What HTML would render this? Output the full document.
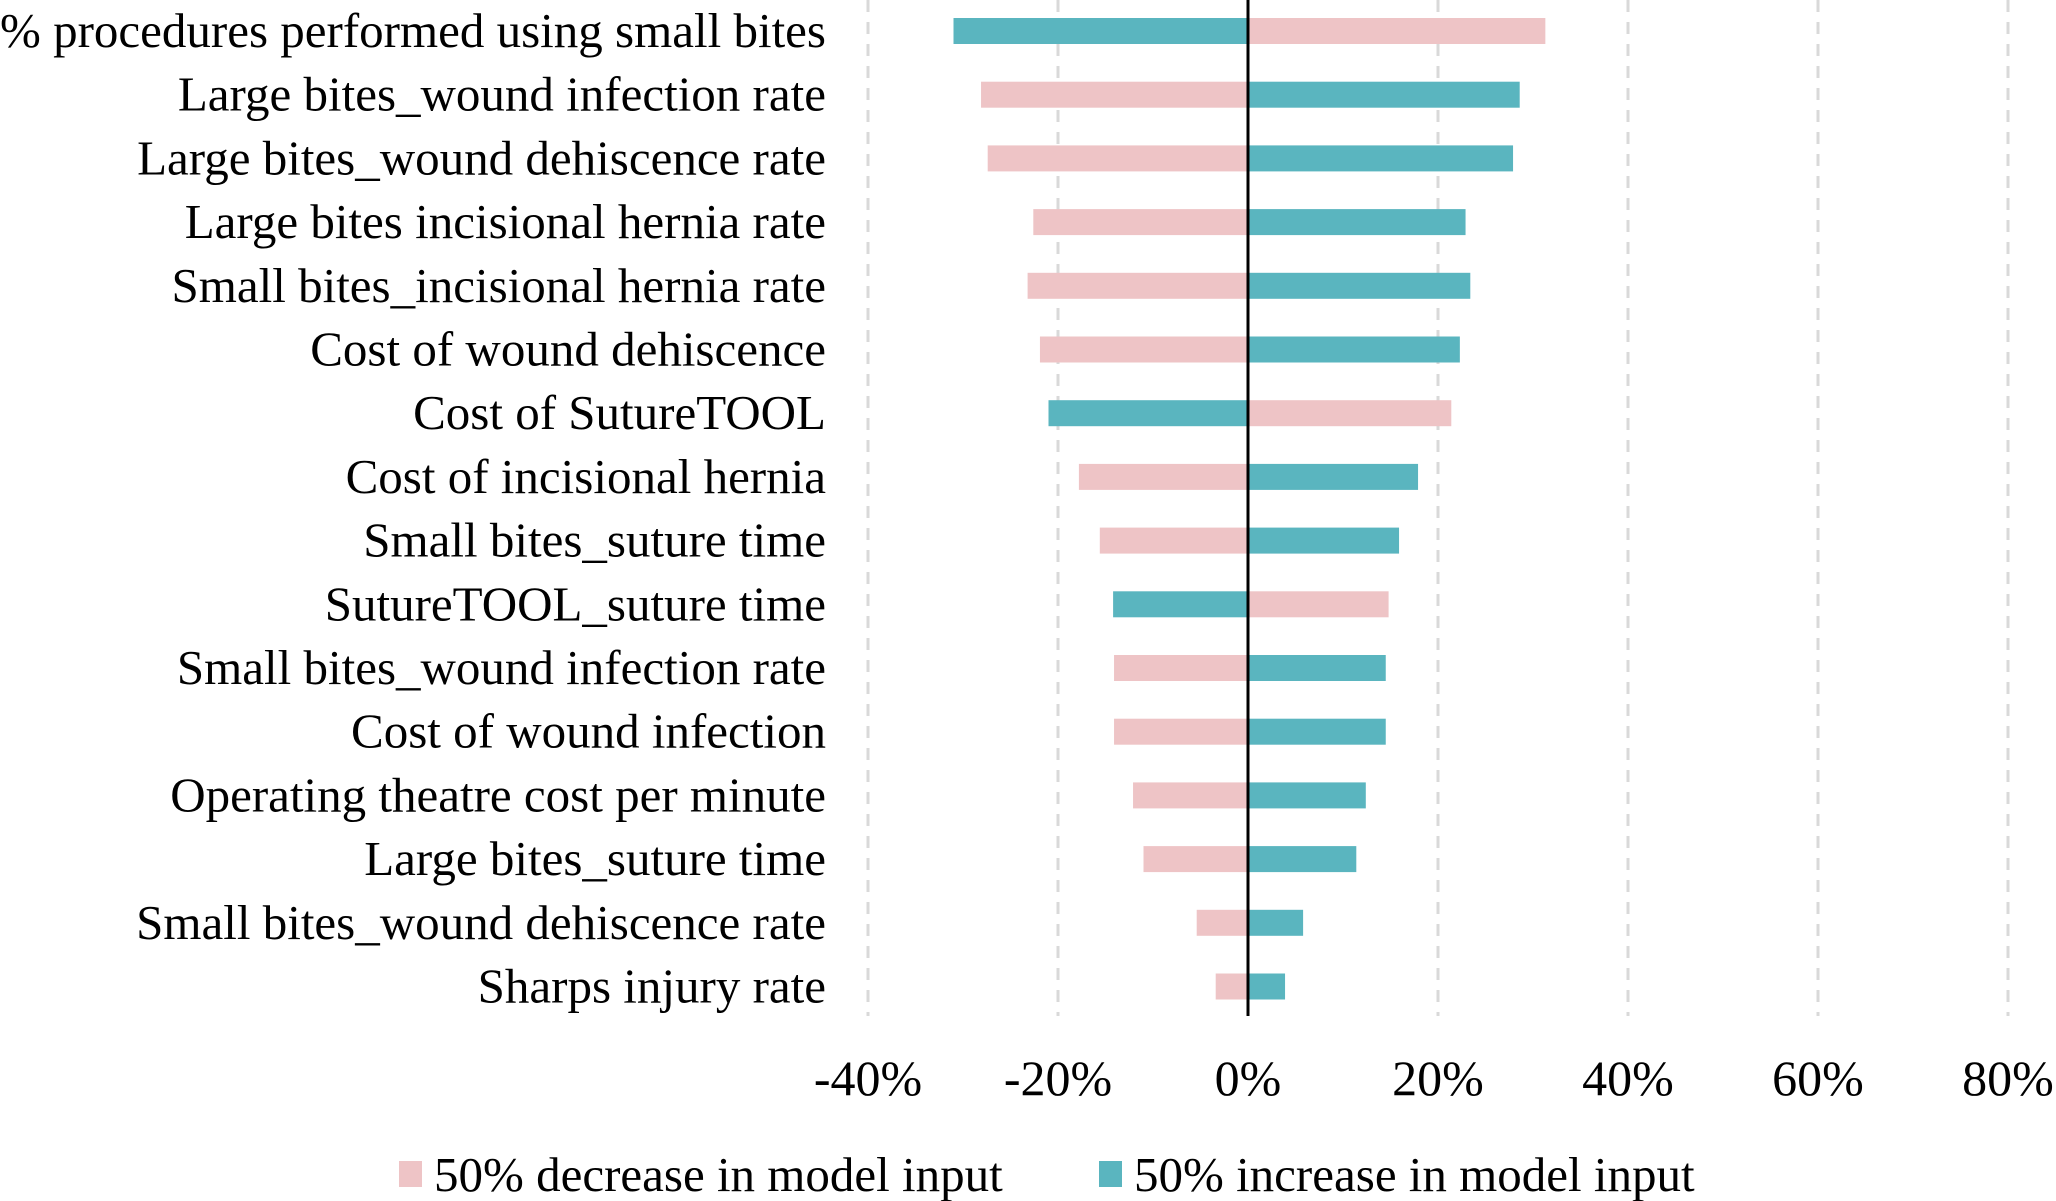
<!DOCTYPE html>
<html><head><meta charset="utf-8"><style>
html,body{margin:0;padding:0;background:#fff;}
svg{display:block;font-family:"Liberation Serif","Times New Roman",serif;}
</style></head><body>
<svg id="chart" width="2056" height="1201" viewBox="0 0 2056 1201" xmlns="http://www.w3.org/2000/svg">
<g id="grid"></g>
<g id="bars"></g>
<g id="labels"></g>
<g id="ticks"></g>
<g>
  <rect x="399" y="1161" width="23" height="26" fill="#EEC4C6"/>
  <text x="434" y="1191" font-size="49" fill="#000">50% decrease in model input</text>
  <rect x="1099" y="1161" width="23" height="26" fill="#5AB5BF"/>
  <text x="1134" y="1191" font-size="49" fill="#000">50% increase in model input</text>
</g>
</svg>
<script>
const categories = ["% procedures performed using small bites","Large bites_wound infection rate","Large bites_wound dehiscence rate","Large bites incisional hernia rate","Small bites_incisional hernia rate","Cost of wound dehiscence","Cost of SutureTOOL","Cost of incisional hernia","Small bites_suture time","SutureTOOL_suture time","Small bites_wound infection rate","Cost of wound infection","Operating theatre cost per minute","Large bites_suture time","Small bites_wound dehiscence rate","Sharps injury rate"];
const decreaseValues = [31.3,-28.1,-27.4,-22.6,-23.2,-21.9,21.4,-17.8,-15.6,14.8,-14.1,-14.1,-12.1,-11.0,-5.4,-3.4];
const increaseValues = [-31.0,28.6,27.9,22.9,23.4,22.3,-21.0,17.9,15.9,-14.2,14.5,14.5,12.4,11.4,5.8,3.9];
const tickValues = [-40,-20,0,20,40,60,80];
const tickLabels = ["-40%","-20%","0%","20%","40%","60%","80%"];

const NS="http://www.w3.org/2000/svg";
const x0=1248, pxPer=9.5;
const xs=v=>x0+v*pxPer;
const rowTop=31, rowPitch=63.7, barH=26;
const ys=i=>rowTop+i*rowPitch;
function mk(tag,attrs,parent){const e=document.createElementNS(NS,tag);for(const k in attrs)e.setAttribute(k,attrs[k]);parent.appendChild(e);return e;}
const grid=document.getElementById('grid'),bars=document.getElementById('bars'),labels=document.getElementById('labels'),ticks=document.getElementById('ticks');
tickValues.forEach((t,i)=>{
  if(t!==0){
    const l=mk('line',{x1:xs(t),x2:xs(t),y1:0,y2:1016,stroke:'#D9D9D9','stroke-width':3,'stroke-dasharray':'12,10'},grid);
    
    
  }
  const tx=mk('text',{x:xs(t),y:1095,'font-size':50,'text-anchor':'middle',fill:'#000'},ticks);
  tx.textContent=tickLabels[i];
  
  
});
categories.forEach((c,i)=>{
  const cy=ys(i);
  [[decreaseValues[i],'#EEC4C6','bar-decrease'],[increaseValues[i],'#5AB5BF','bar-increase']].forEach(([v,col,nm])=>{
    const r=mk('rect',{x:Math.min(xs(0),xs(v)),y:cy-barH/2,width:Math.abs(xs(v)-xs(0)),height:barH,fill:col},bars);
    
    
  });
  const t=mk('text',{x:826,y:cy+16,'font-size':49,'text-anchor':'end',fill:'#000'},labels);
  t.textContent=c;
  
  
});
const z=mk('line',{x1:x0,x2:x0,y1:0,y2:1016,stroke:'#000','stroke-width':3},bars);


</script>
</body></html>
